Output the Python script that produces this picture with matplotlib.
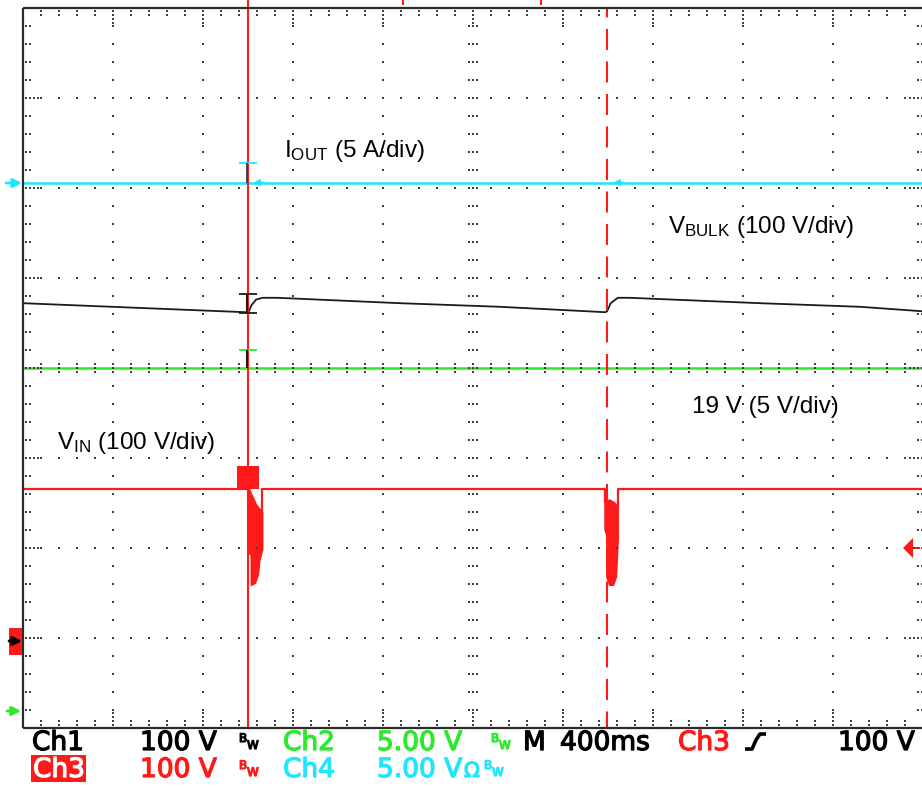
import numpy as np
import matplotlib
matplotlib.use('Agg')
import matplotlib.pyplot as plt
from matplotlib.patches import Rectangle
import matplotlib.patheffects as pe

plt.rcParams['font.family'] = ['Liberation Sans', 'DejaVu Sans']
plt.rcParams['mathtext.default'] = 'regular'
plt.rcParams['lines.solid_capstyle'] = 'butt'
plt.rcParams['lines.scale_dashes'] = False

# scope screen: 10 x 8 divisions, M 400ms/div, values read in divisions
iout_level = 6.06      # Ch4, cyan
v19_level = 4.0        # Ch2, green
vin_level = 2.66       # Ch3, red

vbulk_t = [0.0, 2.47, 2.51, 2.54, 2.59, 2.66, 2.83, 4.19, 5.30, 6.47,
           6.49, 6.53, 6.61, 6.74, 8.19, 9.30, 10.0]
vbulk_v = [4.72, 4.62, 4.63, 4.70, 4.76, 4.78, 4.78, 4.72, 4.68, 4.62,
           4.63, 4.72, 4.78, 4.78, 4.72, 4.68, 4.63]

vin_t = [0.0, 2.51, np.nan, 2.66, 2.66, 6.47, 6.47, np.nan, 6.61, 6.61, 10.0]
vin_v = [2.66, 2.66, np.nan, 2.39, 2.66, 2.66, 2.50, np.nan, 2.46, 2.66, 2.66]

pulse_t = [2.38, 2.62]
pulse_top = 2.91

spike1_t = [2.51, 2.52, 2.52, 2.54, 2.54, 2.58, 2.61, 2.63, 2.66, 2.66, 2.59, 2.54]
spike1_v = [2.66, 2.53, 1.94, 1.92, 1.59, 1.61, 1.70, 1.87, 1.98, 2.39, 2.48, 2.59]
spike2_t = [6.47, 6.47, 6.49, 6.49, 6.52, 6.56, 6.59, 6.60, 6.61, 6.61, 6.57, 6.52]
spike2_v = [2.50, 2.20, 2.14, 1.68, 1.59, 1.59, 1.68, 1.87, 2.09, 2.46, 2.50, 2.53]

cursor1 = 2.5
cursor2 = 6.49

RED = '#ff1a1a'
CYAN = '#1ee6ff'
GREEN = '#2ee82e'
DOT = '#404040'

fig = plt.figure(figsize=(9.22, 7.86), dpi=100)
ax = fig.add_axes([23/922, 58/786, 900/922, 720/786])
ax.set_xlim(0, 10)
ax.set_ylim(0, 8)
ax.axis('off')

# graticule dots
dx, dy = [], []
minor = np.round(np.arange(0.2, 10.0, 0.2), 2)
minor_y = np.round(np.arange(0.2, 8.0, 0.2), 2)
for k in range(1, 10):
    offs = [-0.044, 0, 0.044] if k == 5 else [0]
    for y in minor_y:
        for o in offs:
            dx.append(k + o); dy.append(y)
for k in range(1, 8):
    offs = [-0.044, 0, 0.044] if k == 4 else [0]
    for x in minor:
        for o in offs:
            dx.append(x); dy.append(k + o)
for x in minor:
    for o in [0.033, 0.078]:
        dx += [x, x]; dy += [8 - o, o]
    if abs(x - round(x)) < 1e-6:
        for o in [0.122, 0.166]:
            dx += [x, x]; dy += [8 - o, o]
for y in minor_y:
    for o in [0.033, 0.078]:
        dx += [o, 10 - o + 0.022]; dy += [y, y]
    if abs(y - round(y)) < 1e-6:
        for o in [0.122, 0.166]:
            dx += [o, 10 - o + 0.022]; dy += [y, y]
ax.scatter(dx, dy, s=2.4, marker='s', c=DOT, linewidths=0, zorder=3)

# frame
ax.plot([0, 0], [0, 8], color='#2b2b2b', lw=1.6, clip_on=False, zorder=6)
ax.plot([0, 10.05], [8, 8], color='#2b2b2b', lw=1.6, clip_on=False, zorder=6)
ax.plot([0, 10.05], [0, 0], color='#2b2b2b', lw=1.6, clip_on=False, zorder=6)

# traces
ax.plot([0, 10], [iout_level, iout_level], color=CYAN, lw=1.8, zorder=2)
ax.plot(vbulk_t, vbulk_v, color='#1a1a1a', lw=1.3, zorder=2)
ax.plot([0, 10], [v19_level, v19_level], color=GREEN, lw=1.8, zorder=2)
ax.plot(vin_t, vin_v, color=RED, lw=1.6, zorder=2)
ax.fill_between(pulse_t, vin_level, pulse_top, color=RED, lw=0, zorder=2)
ax.fill(spike1_t, spike1_v, color=RED, lw=1.5, zorder=2)
ax.fill(spike2_t, spike2_v, color=RED, lw=1.5, zorder=2)

# cursors
ax.plot([cursor1, cursor1], [0, 8.09], color=RED, lw=1.5, clip_on=False, zorder=4)
ax.plot([cursor2, cursor2], [8, 0], color=RED, lw=1.5, zorder=4,
        linestyle=(8.3, (15.1, 8.3)))
for xm in [4.22, 5.76]:
    ax.plot([xm, xm], [8.03, 8.09], color=RED, lw=1.5, clip_on=False)

# channel markers at trigger point
ax.plot([2.4, 2.6], [6.278, 6.278], color=CYAN, lw=1.3, zorder=5)
ax.plot([2.49, 2.49], [6.056, 6.278], color='#1a4a4a', lw=1.3, zorder=5)
ax.plot([2.4, 2.6], [4.822, 4.822], color='#1a1a1a', lw=1.3, zorder=5)
ax.plot([2.4, 2.6], [4.611, 4.611], color='#1a1a1a', lw=1.3, zorder=5)
ax.plot([2.49, 2.49], [4.611, 4.822], color='#1a1a1a', lw=1.5, zorder=5)
ax.plot([2.4, 2.6], [4.2, 4.2], color=GREEN, lw=1.3, zorder=5)
ax.plot([2.49, 2.49], [4.0, 4.2], color='#1a1a1a', lw=1.5, zorder=5)
for xa in [2.56, 6.56]:
    ax.annotate('', xy=(xa, iout_level), xytext=(xa + 0.12, iout_level),
                arrowprops=dict(arrowstyle='-|>', color=CYAN, lw=1.2,
                                mutation_scale=9, shrinkA=0, shrinkB=0), zorder=5)

# labels
fs = 17.5
ax.text(2.9, 6.344, r'$I_{OUT}$ (5 A/div)', fontsize=fs, va='baseline')
ax.text(7.17, 5.5, r'$V_{BULK}$ (100 V/div)', fontsize=fs, va='baseline')
ax.text(7.43, 3.5, '19 V (5 V/div)', fontsize=fs, va='baseline')
ax.text(0.38, 3.1, r'$V_{IN}$ (100 V/div)', fontsize=fs, va='baseline')

# screen overlay in pixels for the readout and side markers
scr = fig.add_axes([0, 0, 1, 1])
scr.set_xlim(0, 922)
scr.set_ylim(786, 0)
scr.axis('off')
scr.patch.set_visible(False)

arrow = dict(arrowstyle='-|>', lw=2, mutation_scale=13, shrinkA=0, shrinkB=0)
scr.annotate('', xy=(22, 183), xytext=(6, 183), arrowprops=dict(arrow, color=CYAN))
scr.add_patch(Rectangle((9, 628), 13, 27, color=RED, lw=0))
scr.annotate('', xy=(22, 641), xytext=(9, 641), arrowprops=dict(arrow, color='black'))
scr.annotate('', xy=(21, 711), xytext=(7, 711), arrowprops=dict(arrow, color=GREEN))
scr.fill([903, 913, 913], [548, 538, 558], color=RED, lw=0)
scr.scatter([916, 919, 922], [548, 548, 548], s=2.5, marker='s', c=RED, linewidths=0)


def st(x, y, s, color, size=19):
    scr.text(x, y, s, color=color, family='DejaVu Sans', fontsize=size, va='baseline',
             path_effects=[pe.withStroke(linewidth=0.9, foreground=color)])


def bw(x, y, color):
    st(x, y - 8, 'B', color, 8.5)
    st(x + 8, y - 1, 'W', color, 8.5)


r1, r2 = 750, 777
st(32, r1, 'Ch1', 'black')
st(140, r1, '100 V', 'black')
bw(239, r1, 'black')
st(283, r1, 'Ch2', GREEN)
st(377, r1, '5.00 V', GREEN)
bw(491, r1, GREEN)
st(523, r1, 'M', 'black')
st(560, r1, '400ms', 'black')
st(678, r1, 'Ch3', RED)
scr.plot([745, 752, 756, 760, 766], [749, 749, 740, 734, 734], color='black', lw=2.6)
st(838, r1, '100 V', 'black')

scr.add_patch(Rectangle((31, 755), 55, 27, color=RED, lw=0))
st(33, r2, 'Ch3', 'white')
st(140, r2, '100 V', RED)
bw(239, r2, RED)
st(283, r2, 'Ch4', CYAN)
st(377, r2, '5.00 V', CYAN)
st(464, r2, 'Ω', CYAN, 15)
bw(484, r2, CYAN)

fig.savefig('out.png', dpi=100, facecolor='white')
